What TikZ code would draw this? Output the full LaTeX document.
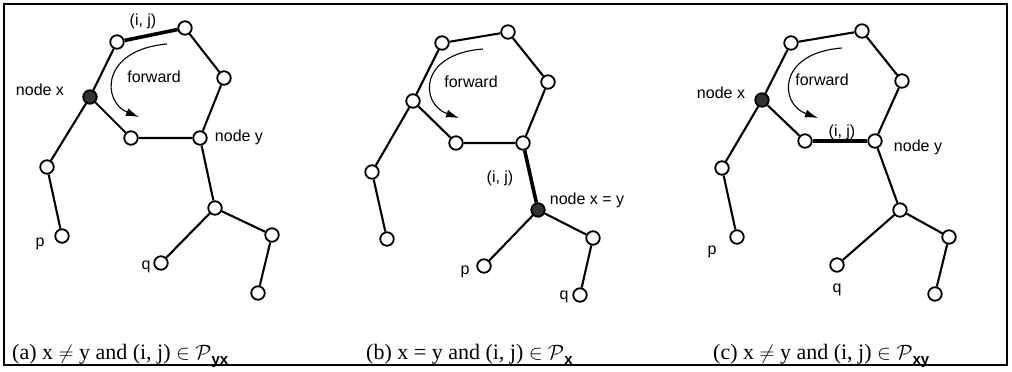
\documentclass[tikz,border=0pt]{standalone}
\usepackage{fontspec}
\setmainfont{Liberation Serif}
\setsansfont{Liberation Sans}
\usetikzlibrary{arrows.meta}
\newcommand{\capsub}[1]{\raisebox{-5pt}{\fontsize{15}{15}\selectfont\sffamily\bfseries #1}}
\begin{document}
\begin{tikzpicture}[x=1pt,y=-1pt,
  vtx/.style={circle,draw,line width=1.8pt,fill=white,minimum size=13.5pt,inner sep=0pt},
  hub/.style={vtx,fill=black!80},
  edge/.style={line width=2.1pt},
  bold/.style={line width=3.6pt},
  lab/.style={font=\sffamily\fontsize{16}{16}\selectfont,inner sep=0pt},
  captxt/.style={font=\fontsize{22}{22}\selectfont,inner sep=0pt,anchor=base west},
  fwd/.style={line width=1.1pt,-{Latex[length=13pt,width=8pt]}}]
\useasboundingbox (0,0) rectangle (1012,372);
\draw[line width=2.6pt] (4,4) rectangle (1007,365);

% ---------- panel (a)
\node[hub] (ax) at (90,97) {};
\node[vtx] (a1) at (117,42) {};
\node[vtx] (a2) at (185,28) {};
\node[vtx] (a3) at (224,78) {};
\node[vtx] (ay) at (200,138) {};
\node[vtx] (a5) at (131,138) {};
\node[vtx] (ap1) at (47,167) {};
\node[vtx] (ap) at (62,236) {};
\node[vtx] (at) at (215,208) {};
\node[vtx] (aq) at (161,263) {};
\node[vtx] (ar1) at (272,235) {};
\node[vtx] (ar2) at (258,293) {};
\draw[edge] (ax) -- (a1);
\draw[bold] (a1) -- (a2);
\draw[edge] (a2) -- (a3) -- (ay) -- (a5) -- (ax);
\draw[edge] (ax) -- (ap1) -- (ap);
\draw[edge] (ay) -- (at) -- (aq);
\draw[edge] (at) -- (ar1) -- (ar2);
\node[lab] (aij) at (143,21) {(i, j)};
\node[lab] (afw) at (154,77) {forward};
\node[lab] (anx) at (40,90) {node x};
\node[lab] (any) at (239,137) {node y};
\node[lab] (apl) at (40,244) {p};
\node[lab] (aql) at (146,267) {q};
\coordinate (as) at (167,44);
\coordinate (ae) at (139,117);
\draw[fwd] (as) .. controls (100,50) and (102,102) .. (ae);
\node[captxt] (acap) at (12,359) {(a) x $\neq$ y and (i, j) $\in$ $\mathcal{P}$\capsub{yx}};

% ---------- panel (b)
\node[vtx] (b1) at (442,43) {};
\node[vtx] (b2) at (508,32) {};
\node[vtx] (b3) at (548,82) {};
\node[vtx] (b4) at (523,143) {};
\node[vtx] (b5) at (456,143) {};
\node[vtx] (b6) at (413,101) {};
\node[vtx] (bp1) at (372,172) {};
\node[vtx] (bp2) at (387,239) {};
\node[hub] (bxy) at (538,210) {};
\node[vtx] (bp) at (484,266) {};
\node[vtx] (br1) at (593,238) {};
\node[vtx] (bq) at (580,295) {};
\draw[edge] (b6) -- (b1) -- (b2) -- (b3) -- (b4) -- (b5) -- (b6);
\draw[edge] (b6) -- (bp1) -- (bp2);
\draw[bold] (b4) -- (bxy);
\draw[edge] (bxy) -- (bp);
\draw[edge] (bxy) -- (br1) -- (bq);
\node[lab] (bij) at (500,178) {(i, j)};
\node[lab] (bfw) at (471,82) {forward};
\node[lab] (bnxy) at (587,200) {node x = y};
\node[lab] (bpl) at (465,272) {p};
\node[lab] (bql) at (564,297) {q};
\coordinate (bs) at (483,49);
\coordinate (be) at (459,118);
\draw[fwd] (bs) .. controls (418,54) and (420,104) .. (be);
\node[captxt] (bcap) at (366,359) {(b) x = y and (i, j) $\in$ $\mathcal{P}$\capsub{x}};

% ---------- panel (c)
\node[hub] (cx) at (762,100) {};
\node[vtx] (c1) at (791,43) {};
\node[vtx] (c2) at (862,31) {};
\node[vtx] (c3) at (902,81) {};
\node[vtx] (cy) at (875,141) {};
\node[vtx] (c5) at (805,141) {};
\node[vtx] (cp1) at (722,168) {};
\node[vtx] (cp2) at (737,237) {};
\node[vtx] (ct) at (900,210) {};
\node[vtx] (cq) at (837,265) {};
\node[vtx] (cr1) at (949,237) {};
\node[vtx] (cr2) at (935,294) {};
\draw[edge] (cx) -- (c1) -- (c2) -- (c3) -- (cy);
\draw[bold] (cy) -- (c5);
\draw[edge] (c5) -- (cx);
\draw[edge] (cx) -- (cp1) -- (cp2);
\draw[edge] (cy) -- (ct) -- (cq);
\draw[edge] (ct) -- (cr1) -- (cr2);
\node[lab] (cij) at (842,132) {(i, j)};
\node[lab] (cfw) at (822,80) {forward};
\node[lab] (cnx) at (721,93) {node x};
\node[lab] (cny) at (918,147) {node y};
\node[lab] (cpl) at (712,252) {p};
\node[lab] (cql) at (837,290) {q};
\coordinate (cs) at (842,48);
\coordinate (ce) at (818,118);
\draw[fwd] (cs) .. controls (777,53) and (779,104) .. (ce);
\node[captxt] (ccap) at (713,359) {(c) x $\neq$ y and (i, j) $\in$ $\mathcal{P}$\capsub{xy}};
\end{tikzpicture}
\end{document}
